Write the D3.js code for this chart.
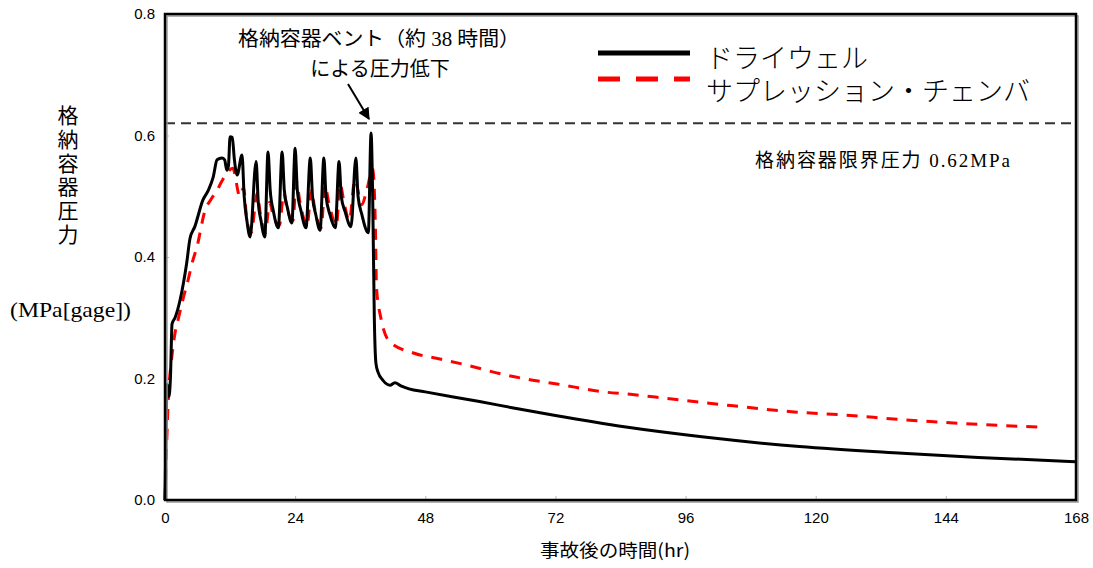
<!DOCTYPE html>
<html>
<head>
<meta charset="utf-8">
<script src="https://cdn.jsdelivr.net/npm/d3@7"></script>
<style>
  body { margin: 0; background: #fff; }
  svg { display: block; }
  .tick text { font-family: "Liberation Sans Narrow", "Arial Narrow", "Liberation Sans", sans-serif; font-size: 15px; fill: #000; }
</style>
</head>
<body>
<svg id="chart" width="1093" height="568"></svg>
<script>
// hours after accident / pressure (MPa gage)
const dwTime = [0, 0.2, 0.4, 0.7, 1.0, 1.3, 1.85, 2.8, 4.0, 4.6, 5.5, 7.0, 8.0, 8.9, 9.6, 10.5, 11.0, 11.4, 11.7, 12.0, 12.4, 12.8, 13.3, 14.2,
  14.6, 15.1, 15.7, 16.8, 17.2, 17.7, 18.4, 19.0, 19.4, 20.0, 20.9, 21.6, 22.0, 22.6, 23.4, 24.0, 24.4, 25.1, 26.0, 26.8, 27.2, 27.8, 28.6,
  29.3, 29.7, 30.4, 31.4, 32.1, 32.5, 33.2, 34.3, 35.2, 35.6, 36.3, 37.5, 38.0, 38.3, 38.6, 38.9, 39.3, 40.2, 41.5, 42.4, 43.5,
  45, 48, 58, 64, 72, 85, 99, 117, 136, 150, 168];
const dwPress = [0, 0.12, 0.19, 0.17, 0.2, 0.29, 0.30, 0.33, 0.39, 0.43, 0.45, 0.494, 0.51, 0.532, 0.56, 0.563, 0.56, 0.543, 0.55, 0.598, 0.597, 0.56, 0.535, 0.568,
  0.5, 0.46, 0.433, 0.557, 0.49, 0.46, 0.433, 0.573, 0.51, 0.475, 0.448, 0.573, 0.51, 0.48, 0.456, 0.579, 0.51, 0.475, 0.448, 0.563, 0.5, 0.47, 0.444,
  0.563, 0.5, 0.47, 0.448, 0.557, 0.5, 0.475, 0.45, 0.563, 0.5, 0.47, 0.44, 0.604, 0.5, 0.3, 0.225, 0.21, 0.197, 0.189, 0.193, 0.188,
  0.183, 0.178, 0.162, 0.152, 0.139, 0.12, 0.104, 0.088, 0.077, 0.07, 0.063];

const scTime = [0, 0.3, 0.6, 1.2, 1.85, 2.5, 3.3, 4.2, 5.0, 5.9, 7.4, 8.5, 9.6, 10.5, 11.4, 12.5, 13.8, 14.5, 15.1, 15.9, 17.0, 17.6, 18.5,
  19.3, 19.9, 21.1, 21.9, 22.5, 23.6, 24.2, 24.9, 26.2, 27.0, 27.6, 28.8, 29.5, 30.2, 31.6, 32.3, 33.0, 34.0, 35.0, 36.3, 37.2, 38.3,
  38.8, 39.0, 39.8, 41.5, 45.8, 50.7, 55.7, 62.7, 67.3, 72.3, 80.8, 85.8, 91.9, 98.7, 104.8, 116, 125, 135, 143, 153.5, 161.5];
const scPress = [0, 0.09, 0.165, 0.23, 0.275, 0.30, 0.33, 0.36, 0.39, 0.417, 0.477, 0.495, 0.51, 0.525, 0.538, 0.546, 0.50, 0.514, 0.46, 0.44, 0.505, 0.47, 0.44,
  0.49, 0.47, 0.452, 0.505, 0.48, 0.46, 0.525, 0.49, 0.452, 0.51, 0.48, 0.448, 0.518, 0.49, 0.452, 0.52, 0.49, 0.46, 0.527, 0.486, 0.51, 0.545,
  0.45, 0.35, 0.30, 0.26, 0.242, 0.232, 0.222, 0.206, 0.198, 0.191, 0.178, 0.174, 0.168, 0.161, 0.155, 0.145, 0.14, 0.133, 0.128, 0.123, 0.12];

const xTicks = [0, 24, 48, 72, 96, 120, 144, 168];
const yTicks = [0, 0.2, 0.4, 0.6, 0.8];
const limitP = 0.62;
const seriesNames = ['ドライウェル', 'サプレッション・チェンバ'];

const svg = d3.select('#chart');
const pL = 165, pR = 1076, pT = 14, pB = 500;
const serif = '"Liberation Serif", "Noto Sans CJK JP", serif';
const gothic = '"Noto Sans CJK JP", sans-serif';

const x = d3.scaleLinear().domain([0, 168]).range([pL, pR]);
const y = d3.scaleLinear().domain([0, 0.8]).range([pB, pT]);

// axes with small inward ticks
const xAxis = svg.append('g')
  .attr('transform', `translate(0,${pB})`)
  .call(d3.axisBottom(x).tickValues(xTicks).tickSizeInner(-4).tickSizeOuter(0).tickPadding(12));
const yAxis = svg.append('g')
  .attr('transform', `translate(${pL},0)`)
  .call(d3.axisLeft(y).tickValues(yTicks).tickFormat(d3.format('.1f')).tickSizeInner(-4).tickSizeOuter(0).tickPadding(10));
[xAxis, yAxis].forEach((a) => {
  a.select('.domain').remove();
  a.selectAll('.tick line').attr('stroke', '#bbb');
});

// limit line 0.62MPa
svg.append('line')
  .attr('x1', pL).attr('x2', pR)
  .attr('y1', y(limitP)).attr('y2', y(limitP))
  .attr('stroke', '#333').attr('stroke-width', 2)
  .attr('stroke-dasharray', '10,6');

const line = d3.line().x((d) => x(d[0])).y((d) => y(d[1])).curve(d3.curveMonotoneX);

svg.append('path')
  .datum(scTime.map((t, i) => [t, scPress[i]]))
  .attr('d', line)
  .attr('fill', 'none')
  .attr('stroke', '#ff0000')
  .attr('stroke-width', 3)
  .attr('stroke-dasharray', '11,9');

svg.append('path')
  .datum(dwTime.map((t, i) => [t, dwPress[i]]))
  .attr('d', line)
  .attr('fill', 'none')
  .attr('stroke', '#000')
  .attr('stroke-width', 3)
  .attr('stroke-linejoin', 'round');

// frame
svg.append('rect')
  .attr('x', pL + 2).attr('y', pT + 2)
  .attr('width', pR - pL).attr('height', pB - pT)
  .attr('fill', 'none').attr('stroke', '#999').attr('stroke-width', 1.5);
svg.append('rect')
  .attr('x', pL).attr('y', pT)
  .attr('width', pR - pL).attr('height', pB - pT)
  .attr('fill', 'none').attr('stroke', '#000').attr('stroke-width', 2.5);

// annotation + arrow
svg.append('defs').append('marker')
  .attr('id', 'head')
  .attr('viewBox', '0 0 10 10')
  .attr('refX', 9).attr('refY', 5)
  .attr('markerWidth', 6).attr('markerHeight', 6)
  .attr('orient', 'auto')
  .append('path').attr('d', 'M0,0 L10,5 L0,10 z').attr('fill', '#000');
svg.append('line')
  .attr('x1', 348).attr('y1', 84)
  .attr('x2', 369).attr('y2', 119)
  .attr('stroke', '#000').attr('stroke-width', 2)
  .attr('marker-end', 'url(#head)');
svg.append('text')
  .attr('x', 238).attr('y', 46)
  .attr('font-family', serif).attr('font-size', 20)
  .attr('textLength', 282).attr('lengthAdjust', 'spacingAndGlyphs')
  .text('格納容器ベント（約 38 時間）');
svg.append('text')
  .attr('x', 380).attr('y', 76)
  .attr('text-anchor', 'middle')
  .attr('font-family', serif).attr('font-size', 20)
  .text('による圧力低下');

svg.append('text')
  .attr('x', 755).attr('y', 167)
  .attr('font-family', serif).attr('font-size', 19)
  .attr('textLength', 255).attr('lengthAdjust', 'spacing')
  .text('格納容器限界圧力 0.62MPa');

// legend
const legend = svg.append('g');
legend.append('line')
  .attr('x1', 598).attr('x2', 690).attr('y1', 53).attr('y2', 53)
  .attr('stroke', '#000').attr('stroke-width', 5);
legend.append('line')
  .attr('x1', 598).attr('x2', 690).attr('y1', 79).attr('y2', 79)
  .attr('stroke', '#ff0000').attr('stroke-width', 5)
  .attr('stroke-dasharray', '22,16');
legend.selectAll('text.lg')
  .data(seriesNames)
  .enter()
  .append('text')
  .attr('class', 'lg')
  .attr('x', 706)
  .attr('y', (d, i) => 68 + i * 33)
  .attr('font-family', serif).attr('font-size', 27)
  .attr('font-weight', 300)
  .text((d) => d);

// y label (vertical characters)
const yLab = svg.append('text')
  .attr('font-family', serif).attr('font-size', 21)
  .attr('text-anchor', 'middle');
Array.from('格納容器圧力').forEach((c, i) => {
  yLab.append('tspan').attr('x', 68).attr('y', 123 + i * 23.8).text(c);
});
svg.append('text')
  .attr('x', 10).attr('y', 317)
  .attr('font-family', serif).attr('font-size', 21)
  .attr('textLength', 121).attr('lengthAdjust', 'spacingAndGlyphs')
  .text('(MPa[gage])');

// x title
svg.append('text')
  .attr('x', 540).attr('y', 557)
  .attr('font-family', gothic).attr('font-size', 18)
  .attr('textLength', 150).attr('lengthAdjust', 'spacingAndGlyphs')
  .text('事故後の時間(hr)');
</script>
</body>
</html>
